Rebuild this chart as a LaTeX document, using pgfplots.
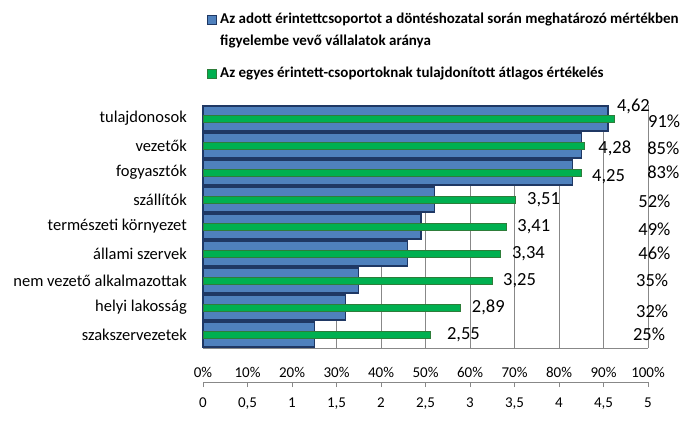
\documentclass[border=0pt]{standalone}
\usepackage{pgfplots}
\pgfplotsset{compat=1.18}
\usepackage{fontspec}
\setmainfont{Carlito}
\definecolor{barblue}{HTML}{4F81BD}
\definecolor{bluedge}{HTML}{1F3864}
\definecolor{bargreen}{HTML}{00B050}
\definecolor{greenedge}{HTML}{2E7D3A}
\definecolor{gridgray}{HTML}{888888}

\begin{document}
\begin{tikzpicture}[x=1bp,y=1bp]
\path[use as bounding box] (0,0) rectangle (687,422);

% legend
\fill[barblue, draw=bluedge] (207.5,398) rectangle (216.5,407);
\node[anchor=west, inner sep=0pt, align=left, font=\fontsize{15bp}{22bp}\selectfont\bfseries]
  at (220,391) {Az adott érintettcsoportot a döntéshozatal során meghatározó mértékben\\figyelembe vevő vállalatok aránya};
\fill[bargreen, draw=greenedge] (207.5,344) rectangle (216.5,353);
\node[anchor=west, inner sep=0pt, font=\fontsize{15bp}{17bp}\selectfont\bfseries]
  at (220,348) {Az egyes érintett-csoportoknak tulajdonított átlagos értékelés};

% share of companies (%)
\begin{axis}[
  at={(203bp,74bp)}, anchor=south west,
  scale only axis, width=445bp, height=243bp,
  xmin=0, xmax=100, ymin=-0.5, ymax=8.5,
  y dir=reverse, clip=false,
  axis x line*=bottom, axis y line*=left,
  axis line style={gridgray, -},
  xtick={0,10,...,100}, xticklabels={},
  xmajorgrids, grid style={gridgray, line width=0.6pt},
  major tick length=0pt,
  ytick={0,...,8},
  yticklabels={tulajdonosok,vezetők,fogyasztók,szállítók,természeti környezet,állami szervek,nem vezető alkalmazottak,helyi lakosság,szakszervezetek},
  yticklabel style={font=\fontsize{16.5bp}{18bp}\selectfont, inner sep=0pt, anchor=east, xshift=-16bp},
]
\addplot[xbar, bar width=25bp, bar shift=0pt, fill=barblue, draw=bluedge, line width=1.2pt]
  coordinates {(91,0) (85,1) (83,2) (52,3) (49,4) (46,5) (35,6) (32,7) (25,8)};
\begin{scope}[every node/.style={anchor=west, inner sep=0pt, font=\fontsize{18.5bp}{21bp}\selectfont}]
\node[yshift=-2.5bp] at (axis cs:100,0) {91\%};
\node[yshift=-2.5bp] at (axis cs:99.8,1) {85\%};
\node at (axis cs:99.8,2) {83\%};
\node[yshift=-1.5bp] at (axis cs:97.8,3) {52\%};
\node[yshift=-2.5bp] at (axis cs:97.8,4) {49\%};
\node at (axis cs:97.8,5) {46\%};
\node at (axis cs:97.3,6) {35\%};
\node[yshift=-3.5bp] at (axis cs:97.3,7) {32\%};
\node at (axis cs:96.6,8) {25\%};
\end{scope}
\end{axis}

% average rating (0-5)
\begin{axis}[
  at={(203bp,74bp)}, anchor=south west,
  scale only axis, width=445bp, height=243bp,
  xmin=0, xmax=5, ymin=-0.5, ymax=8.5,
  y dir=reverse, clip=false,
  axis lines=none, xtick=\empty, ytick=\empty,
]
\addplot[xbar, bar width=7bp, bar shift=0pt, fill=bargreen, draw=greenedge, line width=0.6pt]
  coordinates {(4.62,0) (4.28,1) (4.25,2) (3.51,3) (3.41,4) (3.34,5) (3.25,6) (2.89,7) (2.55,8)};
\begin{scope}[every node/.style={anchor=west, inner sep=0pt, font=\fontsize{18.5bp}{21bp}\selectfont}]
\node[yshift=12.5bp] at (axis cs:4.65,0) {4,62};
\node[yshift=-2.5bp] at (axis cs:4.44,1) {4,28};
\node[yshift=-4.5bp] at (axis cs:4.37,2) {4,25};
\node at (axis cs:3.64,3) {3,51};
\node at (axis cs:3.53,4) {3,41};
\node at (axis cs:3.47,5) {3,34};
\node at (axis cs:3.37,6) {3,25};
\node at (axis cs:3.02,7) {2,89};
\node at (axis cs:2.74,8) {2,55};
\end{scope}
\end{axis}

% separate scale: numbers below the line
\begin{axis}[
  at={(203bp,40bp)}, anchor=south west,
  scale only axis, width=445bp, height=10bp,
  xmin=0, xmax=100, ymin=0, ymax=1,
  axis x line*=bottom, hide y axis,
  axis line style={gridgray, -},
  xtick={0,10,...,100},
  xticklabels={0,{0,5},1,{1,5},2,{2,5},3,{3,5},4,{4,5},5},
  tick align=outside, major tick length=5bp,
  xtick style={gridgray, line width=0.6pt},
  xticklabel style={font=\fontsize{15bp}{18bp}\selectfont, yshift=-7bp},
]
\end{axis}

% separate scale: percentages above the line
\begin{axis}[
  at={(203bp,30bp)}, anchor=south west,
  scale only axis, width=445bp, height=10bp,
  xmin=0, xmax=100, ymin=0, ymax=1,
  axis x line*=top, hide y axis,
  x axis line style={draw=none},
  xtick={0,10,...,100},
  xticklabels={0\%,10\%,20\%,30\%,40\%,50\%,60\%,70\%,80\%,90\%,100\%},
  major tick length=0pt,
  xticklabel style={font=\fontsize{15bp}{18bp}\selectfont, yshift=1bp},
]
\end{axis}
\end{tikzpicture}
\end{document}
